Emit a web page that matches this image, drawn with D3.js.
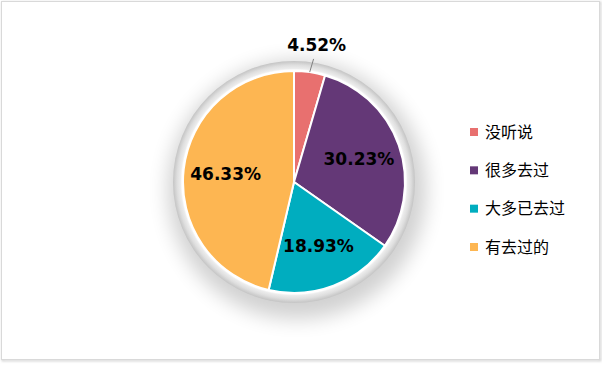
<!DOCTYPE html>
<html>
<head>
<meta charset="utf-8">
<script src="https://cdn.jsdelivr.net/npm/d3@7"></script>
<style>
  body { margin: 0; background: #fff; }
  svg { display: block; }
</style>
</head>
<body>
<div id="chart"></div>
<script>
// chart data
var categories = ["没听说", "很多去过", "大多已去过", "有去过的"];
var values = [4.52, 30.23, 18.93, 46.33];
var colors = ["#E8706F", "#643877", "#00ADBF", "#FDB652"];

var width = 602, height = 372;
var cx = 294, cy = 182, radius = 111;

var svg = d3.select("#chart")
  .append("svg")
  .attr("width", width)
  .attr("height", height);

var defs = svg.append("defs");

// soft shadow under the ring
var blur = defs.append("filter")
  .attr("id", "blur")
  .attr("x", "-50%").attr("y", "-50%")
  .attr("width", "200%").attr("height", "200%");
blur.append("feGaussianBlur").attr("stdDeviation", 10);

var frameShadow = defs.append("filter").attr("id", "fshadow");
frameShadow.append("feGaussianBlur").attr("stdDeviation", 0.8);

// ring gradient, lighter inside, darker at the outer edge
var rg = defs.append("radialGradient")
  .attr("id", "ring")
  .attr("gradientUnits", "userSpaceOnUse")
  .attr("cx", 0).attr("cy", 0).attr("r", radius + 10);
rg.append("stop").attr("offset", (radius + 1) / (radius + 10)).attr("stop-color", "#ffffff");
rg.append("stop").attr("offset", (radius + 2.5) / (radius + 10)).attr("stop-color", "#ececec");
rg.append("stop").attr("offset", (radius + 6) / (radius + 10)).attr("stop-color", "#dedede");
rg.append("stop").attr("offset", 1).attr("stop-color", "#c4c4c4");

// chart frame
svg.append("rect")
  .attr("x", 2.5).attr("y", 2.5)
  .attr("width", 598).attr("height", 358)
  .attr("fill", "none")
  .attr("stroke", "#c8c8c8")
  .attr("stroke-width", 1.5)
  .attr("filter", "url(#fshadow)");
svg.append("rect")
  .attr("x", 1.5).attr("y", 1.5)
  .attr("width", 598).attr("height", 358)
  .attr("fill", "#fff")
  .attr("stroke", "#d9d9d9")
  .attr("stroke-width", 1);

var g = svg.append("g")
  .attr("transform", "translate(" + cx + "," + cy + ")");

// shadow + ring
g.append("circle")
  .attr("cx", 3).attr("cy", 8)
  .attr("r", radius + 18)
  .attr("fill", "#000")
  .attr("opacity", 0.18)
  .attr("filter", "url(#blur)");
g.append("circle")
  .attr("r", radius + 10)
  .attr("fill", "url(#ring)");

var pie = d3.pie().sort(null).value(function (d) { return d; });
var arcs = pie(values);

var arc = d3.arc().innerRadius(0).outerRadius(radius);
var labelArc = d3.arc().innerRadius(radius * 0.62).outerRadius(radius * 0.62);
var outArc = d3.arc().innerRadius(radius * 1.25).outerRadius(radius * 1.25);
var edgeArc = d3.arc().innerRadius(radius).outerRadius(radius);
var lineArc = d3.arc().innerRadius(radius * 1.12).outerRadius(radius * 1.12);

g.selectAll("path.slice")
  .data(arcs)
  .enter()
  .append("path")
  .attr("class", "slice")
  .attr("d", arc)
  .attr("fill", function (d, i) { return colors[i]; })
  .attr("stroke", "#fff")
  .attr("stroke-width", 2)
  .attr("stroke-linejoin", "round");

// labels: small slices go outside with a leader line
function isSmall(d) { return d.value < 10; }

g.selectAll("line.leader")
  .data(arcs.filter(isSmall))
  .enter()
  .append("line")
  .attr("class", "leader")
  .attr("x1", function (d) { return edgeArc.centroid(d)[0]; })
  .attr("y1", function (d) { return edgeArc.centroid(d)[1]; })
  .attr("x2", function (d) { return lineArc.centroid(d)[0] + 2; })
  .attr("y2", function (d) { return lineArc.centroid(d)[1]; })
  .attr("stroke", "#808080")
  .attr("stroke-width", 1);

g.selectAll("text.val")
  .data(arcs)
  .enter()
  .append("text")
  .attr("class", "val")
  .attr("transform", function (d) {
    var c = isSmall(d) ? outArc.centroid(d) : labelArc.centroid(d);
    return "translate(" + (c[0] + (isSmall(d) ? 3 : 0)) + "," + c[1] + ")";
  })
  .attr("text-anchor", "middle")
  .attr("dy", "0.36em")
  .attr("font-family", "'DejaVu Sans', Verdana, sans-serif")
  .attr("font-weight", "bold")
  .attr("font-size", "17px")
  .attr("fill", "#000")
  .text(function (d) { return d.value.toFixed(2) + "%"; });

// legend
var ly = d3.scalePoint()
  .domain(categories)
  .range([132, 247]);

var legend = svg.selectAll("g.legend")
  .data(categories)
  .enter()
  .append("g")
  .attr("class", "legend")
  .attr("transform", function (d) { return "translate(470," + ly(d) + ")"; });

legend.append("rect")
  .attr("x", 0).attr("y", -4)
  .attr("width", 8).attr("height", 8)
  .attr("fill", function (d, i) { return colors[i]; });

legend.append("text")
  .attr("x", 15)
  .attr("dy", "0.36em")
  .attr("font-family", "'Noto Sans CJK SC', 'Noto Sans', sans-serif")
  .attr("font-size", "16px")
  .attr("fill", "#000")
  .text(function (d) { return d; });
</script>
</body>
</html>
